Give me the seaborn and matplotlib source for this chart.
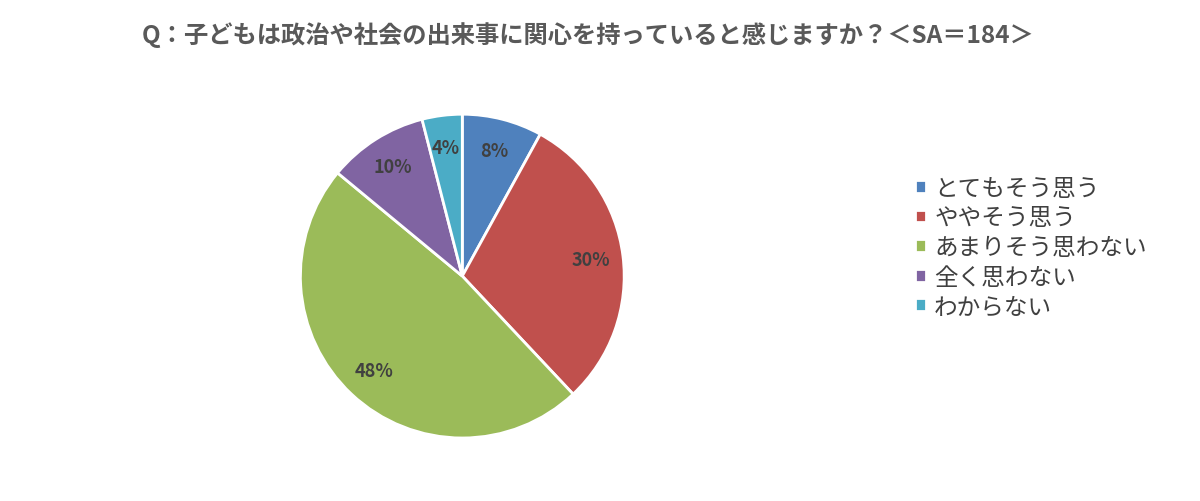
import matplotlib
matplotlib.use("Agg")
import matplotlib.pyplot as plt
import seaborn as sns

# Data
labels = ["とてもそう思う", "ややそう思う", "あまりそう思わない", "全く思わない", "わからない"]
values = [8, 30, 48, 10, 4]
colors = ["#4F81BD", "#C0504D", "#9BBB59", "#8064A2", "#4BACC6"]
title = "Q：子どもは政治や社会の出来事に関心を持っていると感じますか？＜SA＝184＞"

sns.set_theme(style="white")
plt.rcParams["font.family"] = ["Noto Sans CJK JP", "DejaVu Sans"]

fig = plt.figure(figsize=(12, 5.02), dpi=100)
ax = fig.add_axes([0.249, 0.1205, 0.2725, 0.655])

wedges, texts, autotexts = ax.pie(
    values,
    colors=colors,
    startangle=90,
    counterclock=False,
    autopct=lambda p: f"{p:.0f}%",
    pctdistance=0.8,
    wedgeprops=dict(edgecolor="white", linewidth=2),
    textprops=dict(color="#404040", fontsize=13, fontweight="bold"),
)
ax.set_xlim(-1.01, 1.01)
ax.set_ylim(-1.01, 1.01)
ax.set_aspect("equal")

fig.suptitle(title, x=0.49, y=0.955, fontsize=17.5, fontweight="bold", color="#595959")

leg = fig.legend(
    wedges, labels,
    loc="center left", bbox_to_anchor=(0.745, 0.505),
    frameon=False, fontsize=17,
    handlelength=0.45, handleheight=0.45, handletextpad=0.35,
    labelspacing=0.28,
)
for t in leg.get_texts():
    t.set_color("#404040")

fig.savefig("out.png", dpi=100)
